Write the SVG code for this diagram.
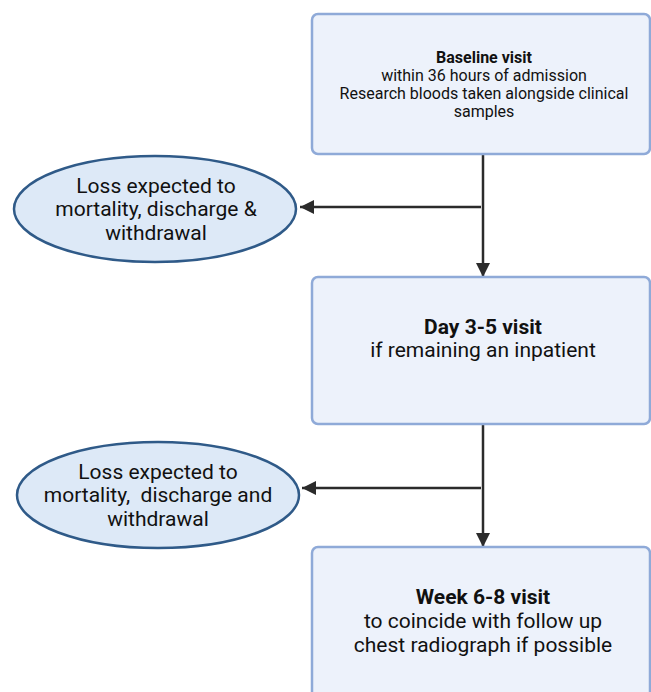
<svg xmlns="http://www.w3.org/2000/svg" width="651" height="692" viewBox="0 0 651 692">
<defs>
<style>
.box{fill:#edf2fb;stroke:#8faad8;stroke-width:2.5}
.ell{fill:#dde9f7;stroke:#2f5a88;stroke-width:2.5}
.t{font-family:Roboto,"Liberation Sans",sans-serif;fill:#111;text-anchor:middle}
.b{font-weight:bold}
.conn{stroke:#2b2b2b;stroke-width:2.5;fill:none}
</style>
<marker id="ah" viewBox="0 0 10 10" refX="10" refY="5" markerWidth="5.6" markerHeight="5.6" markerUnits="strokeWidth" orient="auto">
<path d="M0,0 L10,5 L0,10 Z" fill="#2b2b2b"/>
</marker>
</defs>
<rect width="651" height="692" fill="#ffffff"/>
<g id="connectors">
<line class="conn" x1="483" y1="154" x2="483" y2="277" marker-end="url(#ah)"/>
<line class="conn" x1="481" y1="207" x2="300" y2="207" marker-end="url(#ah)"/>
<line class="conn" x1="483" y1="424" x2="483" y2="547" marker-end="url(#ah)"/>
<line class="conn" x1="481" y1="488" x2="302" y2="488" marker-end="url(#ah)"/>
</g>
<g id="baseline">
<rect class="box" x="312" y="14" width="338" height="140" rx="6"/>
<text class="t b" x="484" y="63" font-size="16">Baseline visit</text>
<text class="t" x="484" y="81" font-size="16">within 36 hours of admission</text>
<text class="t" x="484" y="99" font-size="16">Research bloods taken alongside clinical</text>
<text class="t" x="484" y="117" font-size="16">samples</text>
</g>
<g id="loss1">
<ellipse class="ell" cx="155" cy="209" rx="141" ry="53"/>
<text class="t" x="156" y="193" font-size="21">Loss expected to</text>
<text class="t" x="156" y="216" font-size="21">mortality, discharge &amp;</text>
<text class="t" x="156" y="240" font-size="21">withdrawal</text>
</g>
<g id="day35">
<rect class="box" x="312" y="277" width="338" height="147" rx="6"/>
<text class="t b" x="483" y="334" font-size="21">Day 3-5 visit</text>
<text class="t" x="483" y="357" font-size="21">if remaining an inpatient</text>
</g>
<g id="loss2">
<ellipse class="ell" cx="158" cy="495" rx="141" ry="53"/>
<text class="t" x="158" y="479" font-size="21">Loss expected to</text>
<text class="t" x="158" y="502" font-size="21" xml:space="preserve">mortality,  discharge and</text>
<text class="t" x="158" y="526" font-size="21">withdrawal</text>
</g>
<g id="week68">
<rect class="box" x="312" y="547" width="338" height="160" rx="6"/>
<text class="t b" x="483" y="604" font-size="21">Week 6-8 visit</text>
<text class="t" x="483" y="628" font-size="21">to coincide with follow up</text>
<text class="t" x="483" y="652" font-size="21">chest radiograph if possible</text>
</g>
</svg>
